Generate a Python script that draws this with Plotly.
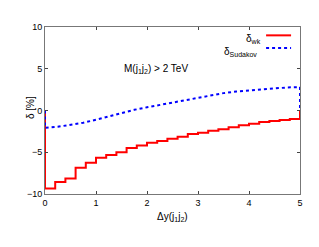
import plotly.graph_objects as go

# Red histogram: delta_wk per bin of width 0.2 in Delta y
bin_edges = [round(0.2 * i, 1) for i in range(26)]
delta_wk = [-9.35, -8.55, -8.15, -6.85, -6.25, -5.65, -5.33, -5.0, -4.5, -4.2,
            -3.85, -3.65, -3.37, -3.13, -2.82, -2.65, -2.44, -2.25, -2.0, -1.78,
            -1.58, -1.38, -1.26, -1.14, -1.02]

# Blue dotted curve: delta_Sudakov
sud_x = [0, 0.25, 0.5, 0.75, 1.0, 1.25, 1.5, 1.75, 2.0, 2.25, 2.5, 2.75, 3.0,
         3.25, 3.5, 3.75, 4.0, 4.25, 4.5, 4.75, 5.0]
sud_y = [-2.08, -1.95, -1.75, -1.47, -1.1, -0.72, -0.28, 0.08, 0.38, 0.66, 0.95,
         1.27, 1.55, 1.82, 2.08, 2.28, 2.42, 2.52, 2.62, 2.76, 2.8]

x_ticks = [0, 1, 2, 3, 4, 5]
y_ticks = [-10, -5, 0, 5, 10]

FONT = "Liberation Sans, Arial, sans-serif"
RED = "#ff0000"
BLUE = "#0000ff"

# step line: drops from 0 at the left edge, returns to 0 at the right edge
step_x = [bin_edges[0]] + bin_edges[:-1] + [bin_edges[-1], bin_edges[-1]]
step_y = [0] + delta_wk + [delta_wk[-1], 0]

fig = go.Figure()
fig.add_trace(go.Scatter(x=step_x, y=step_y, mode="lines", line_shape="hv",
                         line=dict(color=RED, width=2), showlegend=False))
fig.add_trace(go.Scatter(x=[sud_x[0]] + sud_x + [sud_x[-1]],
                         y=[0] + sud_y + [0], mode="lines",
                         line=dict(color=BLUE, width=2, dash="3px,3px"),
                         showlegend=False))

axis_common = dict(showgrid=False, zeroline=False, ticks="inside", ticklen=3,
                   tickcolor="#444", showline=True, linecolor="#777",
                   linewidth=1, mirror="allticks",
                   tickfont=dict(family=FONT, size=9, color="#000"))

fig.update_xaxes(range=[0, 5], tickvals=x_ticks, **axis_common)
fig.update_yaxes(range=[-10, 10], tickvals=y_ticks, **axis_common)

# legend drawn as text + sample lines
fig.add_annotation(xref="paper", yref="paper", x=0.855, y=0.93, xanchor="right",
                   yanchor="middle", showarrow=False, text="δ<sub>wk</sub>",
                   font=dict(family=FONT, size=10, color="#000"))
fig.add_annotation(xref="paper", yref="paper", x=0.84, y=0.853, xanchor="right",
                   yanchor="middle", showarrow=False, text="δ<sub>Sudakov</sub>",
                   font=dict(family=FONT, size=10, color="#000"))
fig.add_shape(type="line", xref="paper", yref="paper", x0=0.867, x1=0.965,
              y0=0.95, y1=0.95, line=dict(color=RED, width=2))
fig.add_shape(type="line", xref="paper", yref="paper", x0=0.867, x1=0.965,
              y0=0.875, y1=0.875, line=dict(color=BLUE, width=2, dash="3px,3px"))

fig.add_annotation(x=1.5, y=5, xanchor="left", yanchor="middle", showarrow=False,
                   text="M(j<sub>1</sub>j<sub>2</sub>) > 2 TeV",
                   font=dict(family=FONT, size=10, color="#000"))

fig.add_annotation(xref="paper", yref="paper", x=-0.03, y=0.52, xanchor="right",
                   yanchor="middle", showarrow=False, text="δ [%]", textangle=-90,
                   font=dict(family=FONT, size=10, color="#000"))
fig.add_annotation(xref="paper", yref="paper", x=0.5, y=-0.09, xanchor="center",
                   yanchor="top", showarrow=False, text="Δy(j<sub>1</sub>j<sub>2</sub>)",
                   font=dict(family=FONT, size=10, color="#000"))

fig.update_layout(width=319, height=247, margin=dict(l=36.5, r=27, t=19, b=61),
                  plot_bgcolor="white", paper_bgcolor="white", showlegend=False)

fig.write_html("out.html")
